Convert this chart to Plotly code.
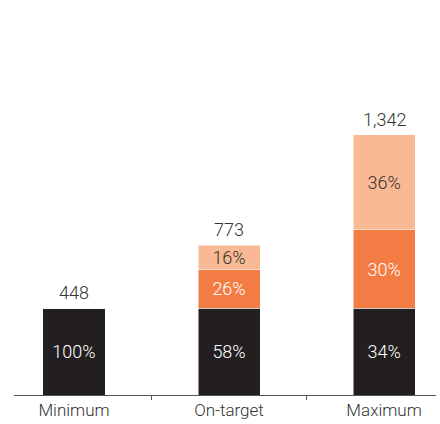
import plotly.graph_objects as go

categories = ["Minimum", "On-target", "Maximum"]
fixed_pay = [448, 448, 448]
short_term = [0, 201, 403]
long_term = [0, 124, 491]
fixed_pct = ["100%", "58%", "34%"]
short_pct = ["", "26%", "30%"]
long_pct = ["", "16%", "36%"]
totals = [448, 773, 1342]
total_labels = ["448", "773", "1,342"]

FONT = "Roboto"
c_black = "#231f20"
c_orange = "#f37c45"
c_peach = "#f9b994"

fig = go.Figure()
for vals, txt, col, tcol in [
    (fixed_pay, fixed_pct, c_black, "white"),
    (short_term, short_pct, c_orange, "white"),
    (long_term, long_pct, c_peach, "#333333"),
]:
    fig.add_trace(go.Bar(
        x=categories, y=vals, text=txt, textposition="inside",
        insidetextanchor="middle", textangle=0, constraintext="none",
        textfont=dict(family=FONT, size=18, color=tcol, weight=300),
        marker=dict(color=col, line=dict(color="white", width=0.5)),
        width=0.4, hoverinfo="skip", showlegend=False,
    ))

for c, t, lab in zip(categories, totals, total_labels):
    fig.add_annotation(x=c, y=t, text=lab, showarrow=False, yanchor="bottom",
                       yshift=3, font=dict(family=FONT, size=18, color="#333333", weight=300))

fig.update_layout(
    barmode="stack", width=440, height=424, uniformtext=dict(minsize=18, mode="show"),
    margin=dict(l=14, r=4, t=20, b=27),
    paper_bgcolor="white", plot_bgcolor="white",
    xaxis=dict(range=[-0.387, 2.335], showline=True, linecolor="#555555", linewidth=1,
               ticks="outside", tickson="boundaries", ticklen=4, tickcolor="#555555",
               tickfont=dict(family=FONT, size=17, color="#333333", weight=300), showgrid=False),
    yaxis=dict(range=[0, 1933], visible=False, showgrid=False),
)
fig.write_html("out.html")
